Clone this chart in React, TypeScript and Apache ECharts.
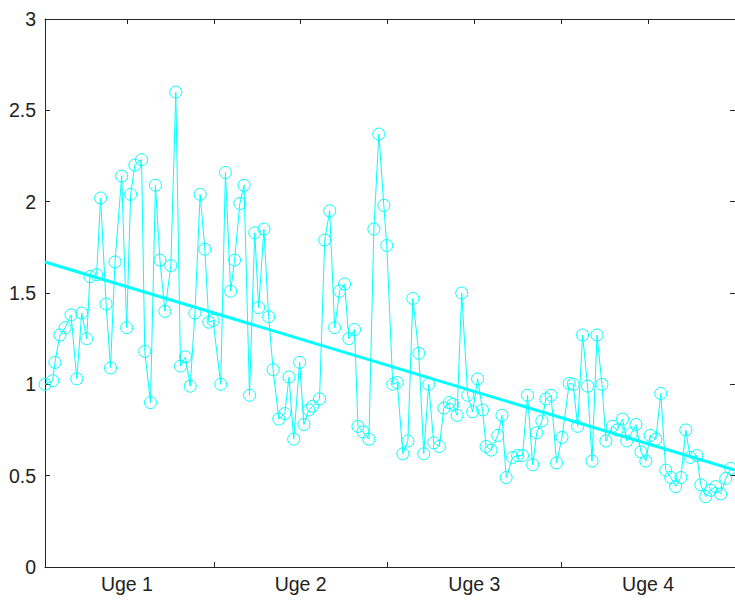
import React, { useEffect, useRef } from "react";
import * as echarts from "echarts";

// Measurement days (x) since start of the 4-week period
const days = [
  0.2, 0.51, 0.6, 0.8, 1.01, 1.25, 1.48, 1.68, 1.88, 2.01, 2.28, 2.44, 2.66, 2.84, 3.02, 3.29, 3.49, 3.65, 3.82, 4.09,
  4.22, 4.45, 4.65, 4.83, 5.03, 5.27, 5.47, 5.66, 5.86, 6.05, 6.24, 6.45, 6.64, 6.8, 6.97, 7.28, 7.47, 7.68, 7.84, 8.05,
  8.22, 8.44, 8.65, 8.81, 9.02, 9.21, 9.39, 9.62, 9.86, 10.03, 10.22, 10.46, 10.63, 10.83, 10.98, 11.26, 11.47, 11.67, 11.87, 12.07,
  12.27, 12.44, 12.67, 12.81, 13.01, 13.25, 13.45, 13.65, 13.85, 13.97, 14.21, 14.39, 14.62, 14.82, 15.02, 15.26, 15.46, 15.66, 15.86, 16.09,
  16.27, 16.49, 16.63, 16.8, 16.99, 17.23, 17.43, 17.63, 17.83, 17.97, 18.17, 18.44, 18.61, 18.78, 19.04, 19.24, 19.44, 19.64, 19.85, 20.01,
  20.22, 20.38, 20.59, 20.81, 21.03, 21.32, 21.48, 21.66, 21.86, 22.06, 22.24, 22.44, 22.64, 22.8, 23.06, 23.25, 23.47, 23.64, 23.82, 24.01,
  24.21, 24.41, 24.58, 24.81, 25.01, 25.21, 25.41, 25.61, 25.82, 26.02, 26.19, 26.46, 26.62, 26.82, 27.02, 27.22, 27.42, 27.63, 27.83,
];

// Measured values
const readings = [
  1.0, 1.02, 1.12, 1.27, 1.31, 1.38, 1.03, 1.39, 1.25, 1.59, 1.6, 2.02, 1.44, 1.09, 1.67, 2.14, 1.31, 2.04, 2.2, 2.23,
  1.18, 0.9, 2.09, 1.68, 1.4, 1.65, 2.6, 1.1, 1.15, 0.99, 1.39, 2.04, 1.74, 1.34, 1.35, 1.0, 2.16, 1.51, 1.68, 1.99,
  2.09, 0.94, 1.83, 1.42, 1.85, 1.37, 1.08, 0.81, 0.84, 1.04, 0.7, 1.12, 0.78, 0.86, 0.88, 0.92, 1.79, 1.95, 1.31, 1.51,
  1.55, 1.25, 1.3, 0.77, 0.74, 0.7, 1.85, 2.37, 1.98, 1.76, 1.0, 1.01, 0.62, 0.69, 1.47, 1.17, 0.62, 1.0, 0.68, 0.66,
  0.87, 0.9, 0.89, 0.83, 1.5, 0.94, 0.85, 1.03, 0.86, 0.66, 0.64, 0.72, 0.83, 0.49, 0.6, 0.61, 0.61, 0.94, 0.56, 0.735,
  0.8, 0.92, 0.94, 0.57, 0.71, 1.005, 1.0, 0.77, 1.27, 0.99, 0.58, 1.27, 1.0, 0.69, 0.77, 0.75, 0.81, 0.69, 0.73, 0.78,
  0.63, 0.58, 0.72, 0.7, 0.95, 0.53, 0.49, 0.44, 0.49, 0.75, 0.6, 0.61, 0.45, 0.385, 0.42, 0.44, 0.4, 0.485, 0.54,
];

// Linear trend: endpoints [day, value]
const trendDays = [0.2, 28];
const trendValues = [1.67, 0.53];

// Axis layout values
const xRange = [0.2, 28];
const weekBoundaries = [7, 14, 21];
const weekCentres = [3.5, 10.5, 17.5, 24.5];
const weekLabels = ["Uge 1", "Uge 2", "Uge 3", "Uge 4"];
const halfWeekTicks = [3.5, 7, 10.5, 14, 17.5, 21, 24.5];
const yRange = [0, 3];
const yStep = 0.5;

const CYAN = "#00ffff";
const AXIS = "#262626";
const FONT = "'Liberation Sans', Arial, sans-serif";

export default function App() {
  const ref = useRef<HTMLDivElement>(null);

  useEffect(() => {
    if (!ref.current) return;
    const chart = echarts.init(ref.current, undefined, { renderer: "svg" });

    const points = days.map((d, i) => [d, readings[i]]);
    const trend = trendDays.map((d, i) => [d, trendValues[i]]);

    const tickStyle = { lineStyle: { color: AXIS, width: 1 } };

    chart.setOption({
      animation: false,
      backgroundColor: "#ffffff",
      grid: { left: 45, top: 19, width: 690, height: 548, containLabel: false },
      xAxis: [
        {
          type: "value",
          position: "bottom",
          min: xRange[0],
          max: xRange[1],
          axisLine: { show: true, onZero: false, lineStyle: { color: AXIS, width: 1 } },
          axisTick: { show: true, inside: true, length: 5, customValues: weekBoundaries, ...tickStyle },
          axisLabel: {
            show: true,
            customValues: weekCentres,
            margin: 7,
            fontSize: 19.5,
            fontFamily: FONT,
            color: "#222",
            formatter: (v: number) => {
              const idx = weekCentres.findIndex((c) => Math.abs(c - v) < 1e-6);
              return idx >= 0 ? weekLabels[idx] : "";
            },
          },
          splitLine: { show: false },
        },
        {
          type: "value",
          position: "top",
          min: xRange[0],
          max: xRange[1],
          axisLine: { show: true, onZero: false, lineStyle: { color: AXIS, width: 1 } },
          axisTick: { show: true, inside: true, length: 5, customValues: halfWeekTicks, ...tickStyle },
          axisLabel: { show: false },
          splitLine: { show: false },
        },
      ],
      yAxis: [
        {
          type: "value",
          position: "left",
          min: yRange[0],
          max: yRange[1],
          interval: yStep,
          axisLine: { show: true, onZero: false, lineStyle: { color: AXIS, width: 1 } },
          axisTick: { show: true, inside: true, length: 5, ...tickStyle },
          axisLabel: { margin: 9, fontSize: 19.5, fontFamily: FONT, color: "#222" },
          splitLine: { show: false },
        },
        {
          type: "value",
          position: "right",
          min: yRange[0],
          max: yRange[1],
          interval: yStep,
          axisLine: { show: true, onZero: false, lineStyle: { color: AXIS, width: 1 } },
          axisTick: { show: true, inside: true, length: 5, ...tickStyle },
          axisLabel: { show: false },
          splitLine: { show: false },
        },
      ],
      series: [
        {
          type: "line",
          data: points,
          xAxisIndex: 0,
          yAxisIndex: 0,
          symbol: "circle",
          symbolSize: 12,
          showAllSymbol: true,
          itemStyle: { color: "rgba(0,0,0,0)", borderColor: CYAN, borderWidth: 1 },
          lineStyle: { color: CYAN, width: 1 },
          emphasis: { disabled: true },
        },
        {
          type: "line",
          data: trend,
          xAxisIndex: 0,
          yAxisIndex: 0,
          symbol: "none",
          lineStyle: { color: CYAN, width: 3 },
          emphasis: { disabled: true },
        },
      ],
    });

    return () => chart.dispose();
  }, []);

  return (
    <div
      ref={ref}
      style={{ position: "absolute", left: 0, top: 0, width: 735, height: 600, background: "#fff" }}
    />
  );
}
